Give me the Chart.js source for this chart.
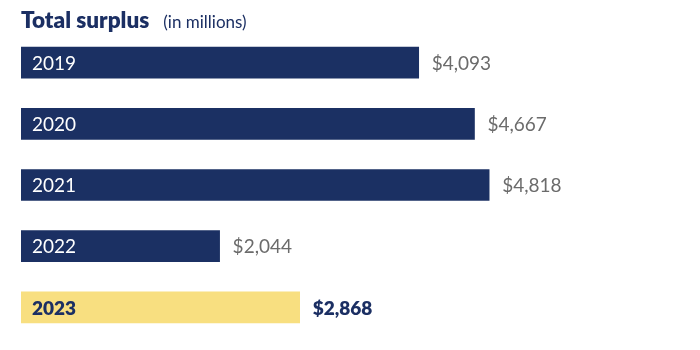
<!DOCTYPE html>
<html lang="en-us">
<head>
<meta charset="UTF-8">
<title>Total surplus</title>
<script src="https://cdn.jsdelivr.net/npm/chart.js"></script>
<style>
	body {padding: 0; margin: 0; background: #fff;}
	#wrap { position: relative; width: 700px; height: 350px; }
	#title { position: absolute; left: 21px; top: 6px; font-family: Lato, sans-serif; color: #1b2f63; white-space: nowrap; }
	#title b { font-size: 22.5px; font-weight: 800; }
	#title span { font-size: 17px; margin-left: 14px; }
	#chartBox { position: absolute; left: 0; top: 0; width: 700px; height: 350px; }
</style>
</head>
<body>
<div id="wrap">
	<div id="chartBox"><canvas id="myChart"></canvas></div>
	<div id="title"><b>Total surplus</b><span>(in millions)</span></div>
</div>

<script>
var years = ['2019', '2020', '2021', '2022', '2023'];
var surplus = [4093, 4667, 4818, 2044, 2868];
var valueLabels = ['$4,093', '$4,667', '$4,818', '$2,044', '$2,868'];
var barColors = ['#1b3063', '#1b3063', '#1b3063', '#1b3063', '#f8df80'];

// draw year inside bar and amount after it
var barLabels = {
	id: 'barLabels',
	afterDatasetsDraw: function(chart) {
		var ctx = chart.ctx;
		var meta = chart.getDatasetMeta(0);
		ctx.save();
		ctx.textBaseline = 'middle';
		meta.data.forEach(function(bar, i) {
			var last = i === years.length - 1;
			ctx.font = (last ? '800 ' : '400 ') + '19px Lato, sans-serif';
			ctx.fillStyle = last ? '#1b2f63' : '#ffffff';
			ctx.textAlign = 'left';
			ctx.fillText(years[i], bar.base + 11, bar.y + 1);
			ctx.fillStyle = last ? '#1b2f63' : '#6b6b6b';
			ctx.fillText(valueLabels[i], bar.x + 13, bar.y + 1);
		});
		ctx.restore();
	}
};

var myChart = new Chart(document.getElementById('myChart').getContext('2d'), {
	type: 'bar',
	data: {
		labels: years,
		datasets: [{
			data: surplus,
			backgroundColor: barColors,
			borderWidth: 0,
			barThickness: 31
		}]
	},
	options: {
		indexAxis: 'y',
		responsive: true,
		maintainAspectRatio: false,
		animation: false,
		layout: { padding: { left: 21, right: 96, top: 32, bottom: 12 } },
		scales: {
			x: { display: false, min: 0, max: 6000 },
			y: { display: false }
		},
		plugins: {
			legend: { display: false },
			tooltip: { enabled: false }
		}
	},
	plugins: [barLabels]
});
</script>
</body>
</html>
